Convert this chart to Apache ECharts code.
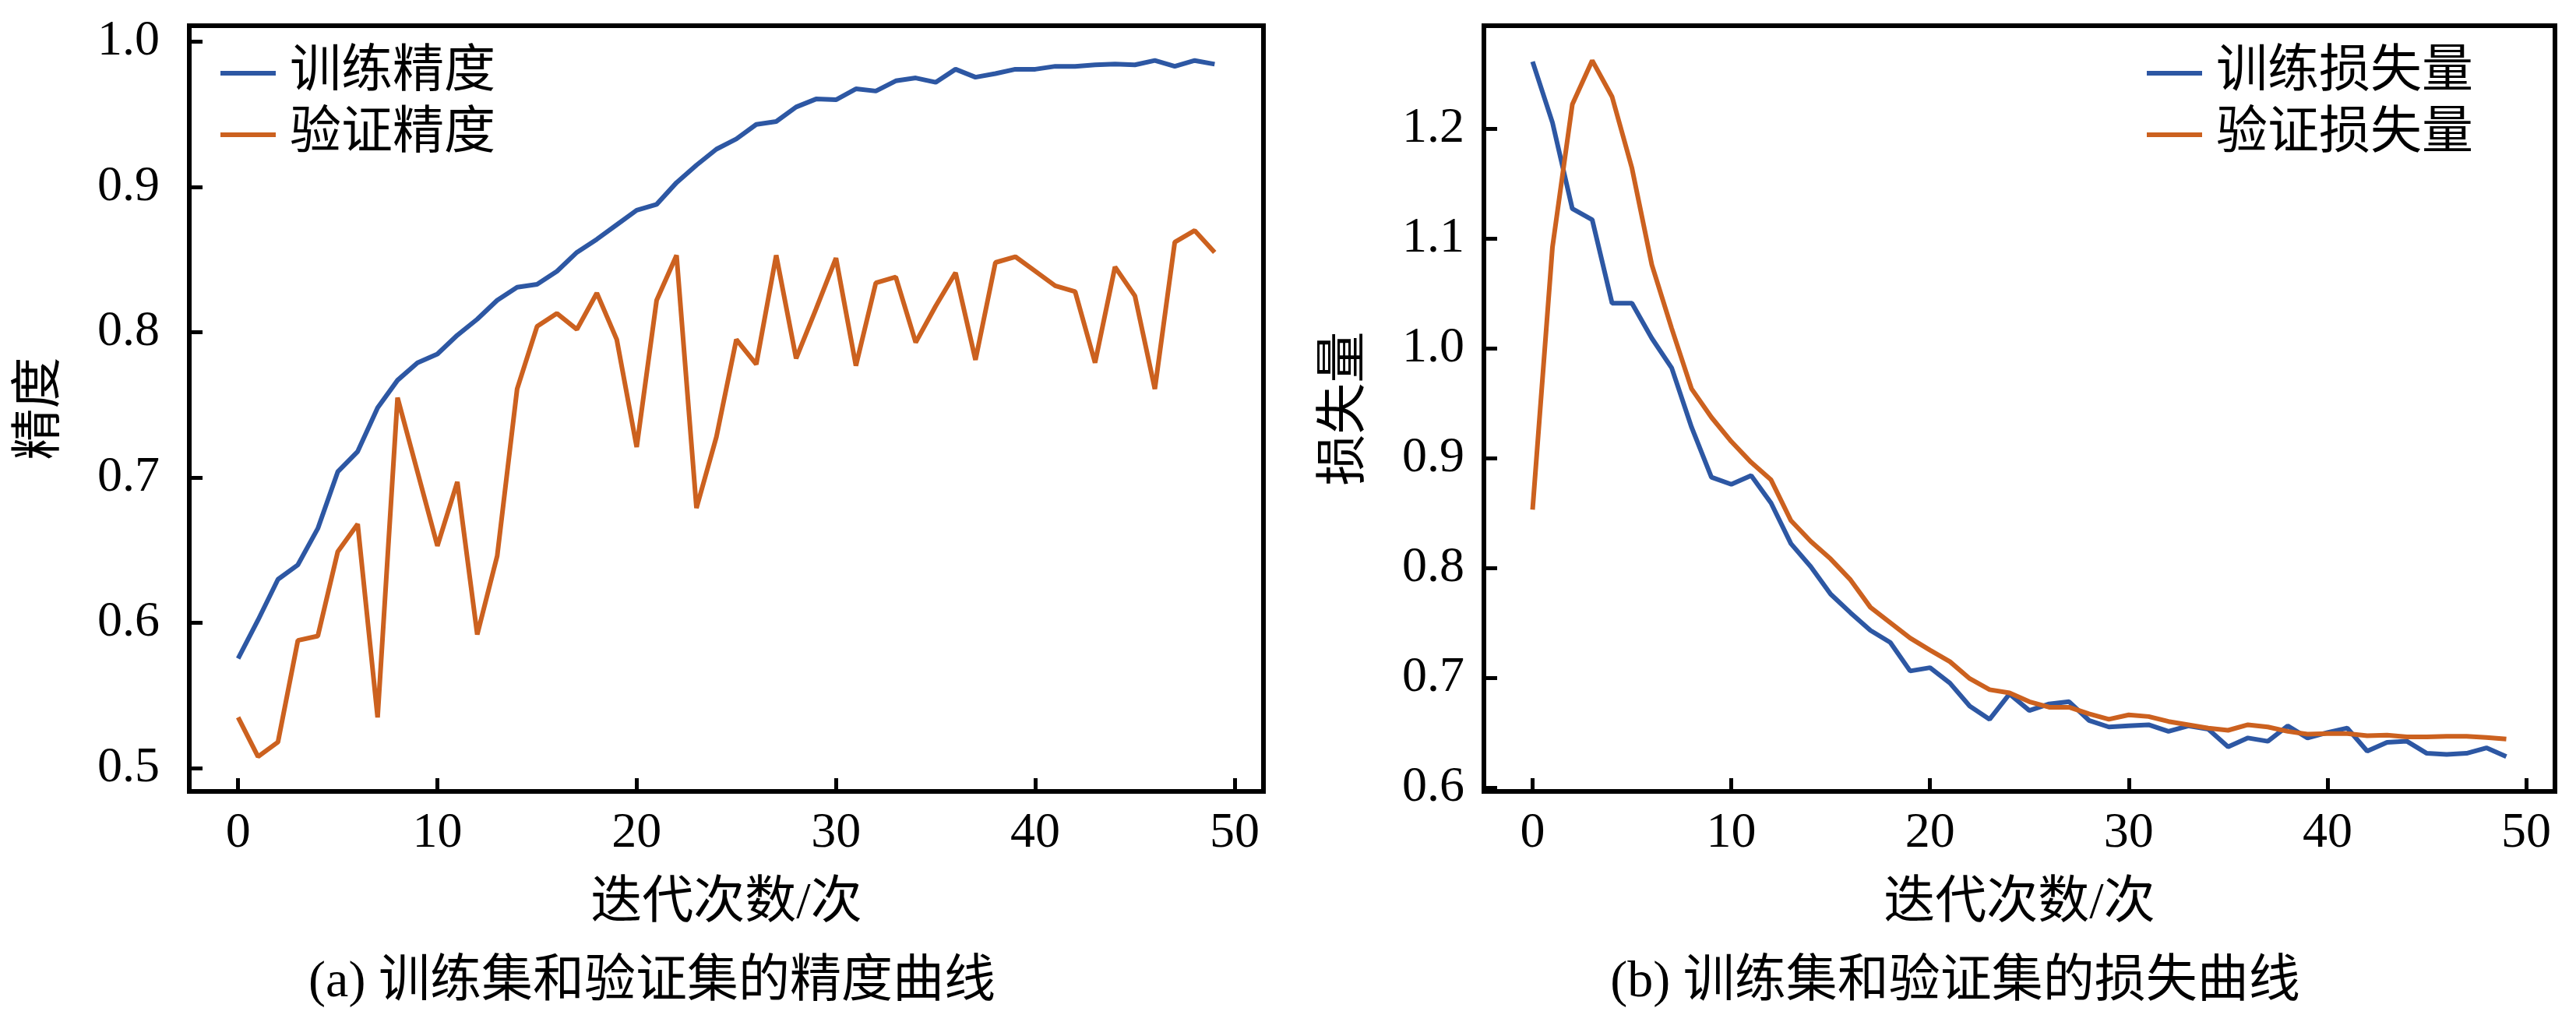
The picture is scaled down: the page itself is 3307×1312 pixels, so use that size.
<!DOCTYPE html>
<html>
<head>
<meta charset="utf-8">
<script src="https://cdn.jsdelivr.net/npm/echarts@6/dist/echarts.min.js"></script>
<style>
html,body{margin:0;padding:0;background:#fff;}
#c{width:3307px;height:1312px;}
</style>
</head>
<body>
<div id="c"></div>
<script>
// ---- data ----
const epochs = Array.from({length: 50}, (_, i) => i);
const trainAcc = [0.5755,0.602,0.630,0.640,0.665,0.704,0.718,0.748,0.767,0.779,
  0.785,0.798,0.809,0.822,0.831,0.833,0.842,0.855,0.864,0.874,
  0.884,0.888,0.903,0.915,0.926,0.933,0.943,0.945,0.955,0.9605,
  0.960,0.9675,0.966,0.973,0.975,0.972,0.981,0.9755,0.978,0.981,
  0.981,0.983,0.983,0.984,0.9845,0.984,0.987,0.983,0.987,0.9845];
const valAcc = [0.535,0.508,0.518,0.588,0.591,0.649,0.668,0.535,0.755,0.704,
  0.653,0.697,0.592,0.646,0.761,0.804,0.813,0.802,0.827,0.795,
  0.721,0.822,0.853,0.679,0.728,0.795,0.778,0.853,0.782,0.816,
  0.851,0.777,0.834,0.838,0.793,0.818,0.841,0.781,0.848,0.852,
  0.842,0.832,0.828,0.779,0.845,0.825,0.761,0.862,0.870,0.855];
const trainLoss = [1.261,1.2055,1.127,1.117,1.041,1.041,1.009,0.982,0.928,0.8825,
  0.876,0.884,0.859,0.822,0.801,0.776,0.759,0.743,0.732,0.706,
  0.709,0.695,0.674,0.662,0.685,0.670,0.676,0.678,0.661,0.655,
  0.656,0.657,0.651,0.656,0.653,0.637,0.645,0.642,0.656,0.645,
  0.650,0.654,0.633,0.641,0.642,0.631,0.630,0.631,0.636,0.628];
const valLoss = [0.853,1.092,1.222,1.262,1.229,1.164,1.076,1.018,0.963,0.937,
  0.915,0.896,0.880,0.843,0.824,0.808,0.789,0.764,0.750,0.736,
  0.725,0.7145,0.699,0.689,0.686,0.678,0.673,0.673,0.667,0.662,
  0.666,0.6645,0.660,0.657,0.654,0.652,0.657,0.655,0.651,0.6485,
  0.649,0.649,0.647,0.6475,0.646,0.646,0.6465,0.6465,0.6455,0.644];
const xTicks = [0,10,20,30,40,50];
const accTicks = [0.5,0.6,0.7,0.8,0.9,1.0];
const lossTicks = [0.6,0.7,0.8,0.9,1.0,1.1,1.2];
const names = {
  trainAcc:'训练精度', valAcc:'验证精度', trainLoss:'训练损失量', valLoss:'验证损失量',
  xName:'迭代次数/次', accName:'精度', lossName:'损失量',
  capA:'(a) 训练集和验证集的精度曲线', capB:'(b) 训练集和验证集的损失曲线'
};

// ---- styling ----
const FONT = "'Liberation Serif', 'Noto Sans CJK SC', serif";
const BLUE = '#2d57a3', ORANGE = '#cc611f';
const pairs = arr => arr.map((v, i) => [epochs[i], v]);
function range(arrs){
  const all = [].concat(...arrs);
  const lo = Math.min(...all), hi = Math.max(...all), m = (hi-lo)*0.05;
  return [lo-m, hi+m];
}
const accR = range([trainAcc, valAcc]);
const lossR = range([trainLoss, valLoss]);
const xm = (epochs[epochs.length-1]-epochs[0])*0.05;

function xAxis(gi){
  return {
    type:'value', gridIndex:gi, min:epochs[0]-xm, max:epochs[epochs.length-1]+xm,
    axisLine:{show:false, onZero:false},
    axisTick:{show:true, inside:true, length:17, customValues:xTicks, lineStyle:{color:'#000', width:5}},
    axisLabel:{customValues:xTicks, fontFamily:FONT, fontSize:64, color:'#000', margin:22},
    splitLine:{show:false},
    name:names.xName, nameLocation:'middle', nameGap:112,
    nameTextStyle:{fontFamily:FONT, fontSize:66, color:'#000'}
  };
}
function yAxis(gi, r, ticks, name, gap, lm){
  return {
    type:'value', gridIndex:gi, min:r[0], max:r[1],
    axisLine:{show:false, onZero:false},
    axisTick:{show:true, inside:true, length:17, customValues:ticks, lineStyle:{color:'#000', width:5}},
    axisLabel:{customValues:ticks, formatter:v=>v.toFixed(1), fontFamily:FONT, fontSize:64, color:'#000', margin:lm},
    splitLine:{show:false},
    name:name, nameLocation:'middle', nameRotate:90, nameGap:gap,
    nameTextStyle:{fontFamily:FONT, fontSize:66, color:'#000'}
  };
}
function legend(left, data){
  return {
    orient:'vertical', left:left, top:56, icon:'rect', itemWidth:71, itemHeight:6, itemGap:13,
    data:data, selectedMode:false,
    textStyle:{fontFamily:FONT, fontSize:66, lineHeight:66, color:'#000', padding:[0,0,0,13]}
  };
}
function line(name, data, color, xi){
  return {
    type:'line', name:name, xAxisIndex:xi, yAxisIndex:xi, data:pairs(data),
    showSymbol:false, symbol:'none', smooth:false, animation:false,
    lineStyle:{color:color, width:6}, itemStyle:{color:color}
  };
}

const chart = echarts.init(document.getElementById('c'), null, {renderer:'canvas'});
chart.setOption({
  backgroundColor:'#fff',
  animation:false,
  grid:[
    {left:243, top:33, width:1379, height:983, show:true, borderColor:'#000', borderWidth:6, backgroundColor:'transparent'},
    {left:1905, top:33, width:1375, height:983, show:true, borderColor:'#000', borderWidth:6, backgroundColor:'transparent'}
  ],
  xAxis:[xAxis(0), xAxis(1)],
  yAxis:[
    yAxis(0, accR, accTicks, names.accName, 157, 38),
    yAxis(1, lossR, lossTicks, names.lossName, 144, 25)
  ],
  legend:[
    legend(278, [names.trainAcc, names.valAcc]),
    legend(2751, [names.trainLoss, names.valLoss])
  ],
  series:[
    line(names.trainAcc, trainAcc, BLUE, 0),
    line(names.valAcc, valAcc, ORANGE, 0),
    line(names.trainLoss, trainLoss, BLUE, 1),
    line(names.valLoss, valLoss, ORANGE, 1)
  ],
  graphic:[
    {type:'text', x:837, y:1262, style:{text:names.capA, font:"66px " + FONT, fill:'#000', align:'center', verticalAlign:'middle', textAlign:'center', textVerticalAlign:'middle'}},
    {type:'text', x:2510, y:1262, style:{text:names.capB, font:"66px " + FONT, fill:'#000', align:'center', verticalAlign:'middle', textAlign:'center', textVerticalAlign:'middle'}}
  ]
});
</script>
</body>
</html>
